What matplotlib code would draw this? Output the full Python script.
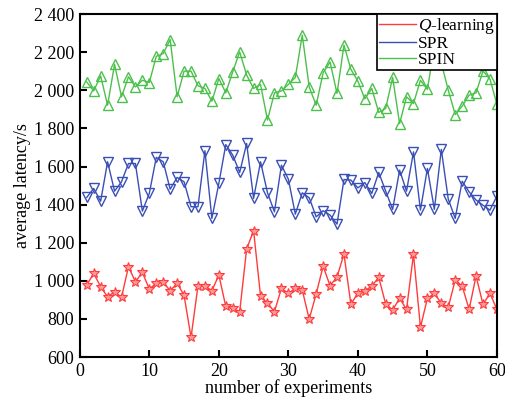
import matplotlib
matplotlib.use("Agg")
import matplotlib.pyplot as plt
from matplotlib.lines import Line2D
from matplotlib.ticker import FuncFormatter, MultipleLocator

plt.rcParams['font.family'] = ['Liberation Serif', 'DejaVu Serif']
plt.rcParams['mathtext.fontset'] = 'custom'
plt.rcParams['mathtext.rm'] = 'Liberation Serif'
plt.rcParams['mathtext.it'] = 'Liberation Serif:italic'

x = list(range(1, 61))

q_learning = [978, 1039, 969, 916, 943, 913, 1074, 995, 1044, 957,
              987, 993, 948, 987, 924, 703, 973, 974, 948, 1030,
              866, 855, 838, 1167, 1263, 920, 882, 838, 960, 934,
              960, 952, 799, 931, 1077, 974, 1021, 1140, 876, 937,
              948, 972, 1018, 878, 847, 908, 850, 1140, 756, 908,
              934, 882, 861, 1004, 973, 850, 1025, 876, 934, 850]

spr = [1438, 1485, 1418, 1625, 1471, 1520, 1616, 1616, 1366, 1459,
       1648, 1625, 1481, 1543, 1520, 1389, 1389, 1683, 1328, 1511,
       1715, 1660, 1569, 1721, 1433, 1625, 1462, 1362, 1607, 1534,
       1350, 1462, 1436, 1336, 1368, 1345, 1298, 1532, 1529, 1488,
       1516, 1459, 1569, 1471, 1375, 1581, 1471, 1677, 1371, 1590,
       1375, 1690, 1429, 1328, 1523, 1467, 1424, 1397, 1371, 1445]

spin = [2044, 1997, 2076, 1922, 2137, 1966, 2071, 2018, 2053, 2041,
        2179, 2193, 2267, 1966, 2101, 2101, 2024, 2010, 1943, 2062,
        1987, 2097, 2202, 2080, 2010, 2031, 1844, 1987, 1997, 2031,
        2068, 2290, 2018, 1922, 2092, 2149, 1984, 2237, 2110, 2048,
        1955, 2010, 1884, 1905, 2068, 1826, 1966, 1931, 2053, 2005,
        2230, 2144, 2001, 1873, 1917, 1975, 1987, 2102, 2059, 1927]

labels = [r'$\mathit{Q}$-learning', 'SPR', 'SPIN']

fig = plt.figure(figsize=(5.05, 4.05), dpi=100)
ax = fig.add_axes([0.158, 0.1185, 0.826, 0.8465])

red = '#ff3b3b'
blue = '#3a4fb5'
green = '#4cc04c'

ax.plot(x, q_learning, color=red, lw=1.0, marker='*', ms=7,
        mfc='#ff9a9a', mec=red, mew=0.8, label=labels[0])
ax.plot(x, spr, color=blue, lw=1.0, marker='v', ms=6.5,
        mfc='none', mec=blue, mew=1.0, label=labels[1])
ax.plot(x, spin, color=green, lw=1.0, marker='^', ms=6.5,
        mfc='none', mec=green, mew=1.0, label=labels[2])

ax.set_xlim(0, 60)
ax.set_ylim(600, 2400)
ax.xaxis.set_major_locator(MultipleLocator(10))
ax.yaxis.set_major_locator(MultipleLocator(200))

def fmt(v, pos):
    s = f"{int(round(v)):,}"
    return s.replace(",", " ")

ax.yaxis.set_major_formatter(FuncFormatter(fmt))
ax.tick_params(direction='in', length=5, width=1.5, labelsize=13,
               top=False, right=False, pad=4)
for sp in ax.spines.values():
    sp.set_linewidth(1.5)

ax.set_xlabel('number of experiments', fontsize=13, labelpad=0)
ax.set_ylabel('average latency/s', fontsize=13, labelpad=2)

handles = [Line2D([], [], color=c, lw=1.0) for c in (red, blue, green)]
leg = ax.legend(handles, labels, loc='upper right', fontsize=12.5,
                frameon=True, fancybox=False, borderaxespad=0,
                handlelength=2.1, labelspacing=0.0, borderpad=0.1,
                handletextpad=0.15)
leg.get_frame().set_edgecolor('black')
leg.get_frame().set_linewidth(1.2)
leg.get_frame().set_alpha(1)

fig.savefig('out.png', dpi=100)
